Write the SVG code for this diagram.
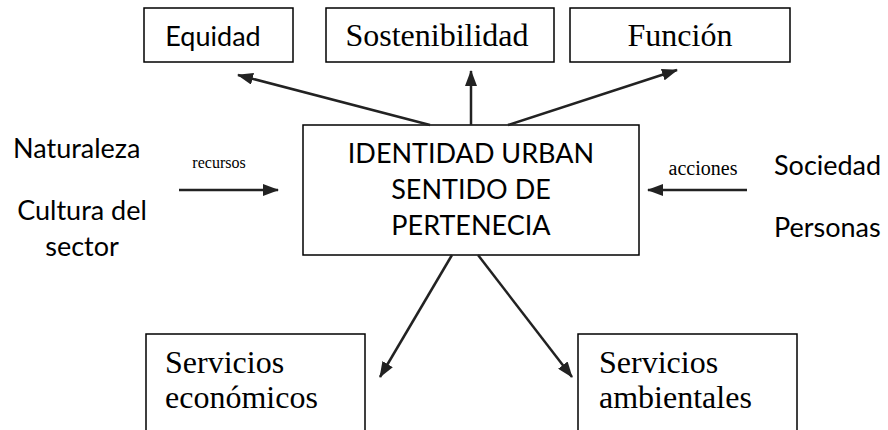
<svg xmlns="http://www.w3.org/2000/svg" width="888" height="430" viewBox="0 0 888 430">
<style>
.box{fill:#fff;stroke:#000;stroke-width:1.5}
.sans{font-family:Lato,"Open Sans","Liberation Sans",sans-serif;font-size:27px;fill:#000}
.serif{font-family:"Liberation Serif","Times New Roman",serif;font-size:32px;fill:#000}
.small{font-family:"Liberation Serif","Times New Roman",serif;fill:#000}
.conn{stroke:#222;stroke-width:2.5;fill:none;marker-end:url(#ah)}
</style>
<defs>
<marker id="ah" markerUnits="userSpaceOnUse" markerWidth="16" markerHeight="12" refX="15" refY="6" orient="auto">
<path d="M0,0 L16,6 L0,12 z" fill="#222"/>
</marker>
</defs>
<rect width="888" height="430" fill="#fff"/>
<g id="equidad">
<rect class="box" x="144" y="8" width="149" height="54"/>
<text class="sans" x="213" y="46" text-anchor="middle">Equidad</text>
</g>
<g id="sostenibilidad">
<rect class="box" x="326" y="8" width="228" height="54"/>
<text class="serif" x="437" y="46" text-anchor="middle">Sostenibilidad</text>
</g>
<g id="funcion">
<rect class="box" x="570" y="8" width="220" height="54"/>
<text class="serif" x="680" y="46" text-anchor="middle">Función</text>
</g>
<g id="identidad">
<rect class="box" x="303" y="125" width="336" height="130"/>
<text class="sans" x="471" y="163" text-anchor="middle">IDENTIDAD URBAN</text>
<text class="sans" x="471" y="199" text-anchor="middle">SENTIDO DE</text>
<text class="sans" x="471" y="235" text-anchor="middle">PERTENECIA</text>
</g>
<g id="naturaleza">
<text class="sans" x="13" y="158">Naturaleza</text>
</g>
<g id="cultura">
<text class="sans" x="82" y="220" text-anchor="middle">Cultura del</text>
<text class="sans" x="82" y="256" text-anchor="middle">sector</text>
</g>
<g id="sociedad">
<text class="sans" x="774" y="175">Sociedad</text>
</g>
<g id="personas">
<text class="sans" x="774" y="237">Personas</text>
</g>
<g id="economicos">
<rect class="box" x="146" y="334" width="219" height="110"/>
<text class="serif" x="165" y="373">Servicios</text>
<text class="serif" x="165" y="408">económicos</text>
</g>
<g id="ambientales">
<rect class="box" x="578" y="334" width="219" height="110"/>
<text class="serif" x="599" y="373">Servicios</text>
<text class="serif" x="599" y="408">ambientales</text>
</g>
<g id="connectors">
<line class="conn" x1="430" y1="125" x2="238" y2="75"/>
<line class="conn" x1="471" y1="125" x2="471" y2="71"/>
<line class="conn" x1="508" y1="125" x2="677" y2="70"/>
<line class="conn" x1="179" y1="190" x2="278" y2="190"/>
<line class="conn" x1="747" y1="190" x2="648" y2="190"/>
<line class="conn" x1="452" y1="255" x2="380" y2="377"/>
<line class="conn" x1="478" y1="255" x2="572" y2="377"/>
<text class="small" x="219" y="168" font-size="16" text-anchor="middle">recursos</text>
<text class="small" x="703" y="175" font-size="20" text-anchor="middle">acciones</text>
</g>
</svg>
